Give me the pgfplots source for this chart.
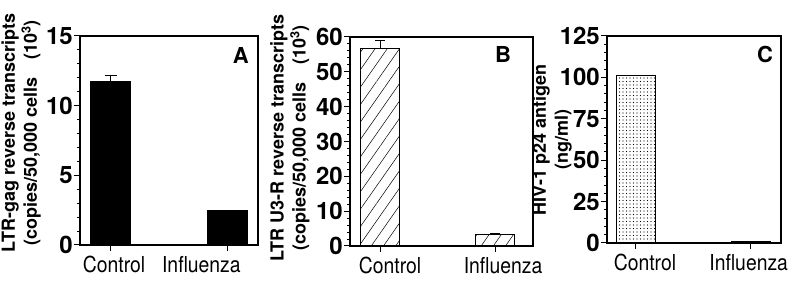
\documentclass[border=0pt]{standalone}
\usepackage{fontspec}
\setmainfont{TeX Gyre Heros}
\usepackage{pgfplots}
\pgfplotsset{compat=1.18}
\usetikzlibrary{patterns.meta}

\tikzset{letter/.style={font=\bfseries\fontsize{22}{22}\selectfont}}
\newcommand{\xl}[1]{\scalebox{0.88}[1]{#1}}
\pgfplotsset{
  panel/.style={
    scale only axis,
    ymin=0,
    xtick={0,1}, xticklabels={},
    tick align=outside, ytick pos=left, xtick pos=bottom,
    major tick length=6pt, minor tick length=3pt,
    axis line style={line width=1.1pt},
    every tick/.style={black, line width=1pt},
    /pgf/number format/assume math mode=true,
    yticklabel style={font=\bfseries\fontsize{24}{24}\selectfont, inner sep=1pt},
    extra x tick style={major tick length=0pt,
      xticklabel style={font=\fontsize{22}{22}\selectfont, yshift=-8pt}},
    ylabel style={font=\bfseries\fontsize{18}{22}\selectfont, align=center, anchor=center},
    minor y tick num=4,
    ybar, bar width=40pt,
    clip=false,
  },
}

\begin{document}
\begin{tikzpicture}
\useasboundingbox (0,0) rectangle (797pt,288pt);

% Panel A
\begin{axis}[panel,
  at={(80pt,43pt)}, anchor=south west, width=178pt, height=209pt,
  xmin=-0.262, xmax=1.266, ymax=15, ytick={0,5,10,15},
  extra x ticks={0.03,0.78}, extra x tick labels={\xl{Control},\xl{Influenza}},
  ylabel={LTR-gag reverse transcripts\\(copies/50,000 cells\quad(10\textsuperscript{3})},
  ylabel style={at={(axis description cs:-0.331,0.536)}},
]
\addplot[fill=black, draw=black, line width=1pt,
  error bars/.cd, y dir=plus, y explicit,
  error bar style={line width=1pt, black},
  error mark options={rotate=90, mark size=6pt, line width=1pt, black}]
  coordinates {(0,11.7) +- (0,0.45) (1,2.45) +- (0,0)};
\node[letter] at (axis description cs:0.904,0.909) {A};
\end{axis}

% Panel B
\begin{axis}[panel,
  at={(350pt,42pt)}, anchor=south west, width=183pt, height=209pt,
  xmin=-0.261, xmax=1.330, ymax=60, ytick={0,10,20,30,40,50,60},
  extra x ticks={0.087,1.07}, extra x tick labels={\xl{Control},\xl{Influenza}},
  ylabel={LTR U3-R reverse transcripts\\(copies/50,000 cells\quad(10\textsuperscript{3})},
  ylabel style={at={(axis description cs:-0.328,0.517)}},
]
\addplot[draw=black, line width=1pt, bar width=39pt,
  pattern={Lines[angle=55, distance=10pt, line width=0.5pt]}, pattern color=black,
  error bars/.cd, y dir=plus, y explicit,
  error bar style={line width=1pt, black},
  error mark options={rotate=90, mark size=5pt, line width=1pt, black}]
  coordinates {(0,56.6) +- (0,2.4) (1,3.4) +- (0,0.3)};
\node[letter] at (axis description cs:0.836,0.914) {B};
\end{axis}

% Panel C
\begin{axis}[panel,
  at={(607pt,45pt)}, anchor=south west, width=174pt, height=207pt,
  xmin=-0.252, xmax=1.261, ymax=125, ytick={0,25,50,75,100,125},
  extra x ticks={0.078,0.98}, extra x tick labels={\xl{Control},\xl{Influenza}},
  ylabel={HIV-1 p24 antigen\\(ng/ml)},
  ylabel style={at={(axis description cs:-0.316,0.498)}},
]
\addplot[draw=black, line width=1pt, bar width=39pt,
  pattern={Dots[distance=3.5pt, radius=0.7pt]}, pattern color=black]
  coordinates {(0,101) (1,0.8)};
\node[letter] at (axis description cs:0.908,0.913) {C};
\end{axis}
\end{tikzpicture}
\end{document}
